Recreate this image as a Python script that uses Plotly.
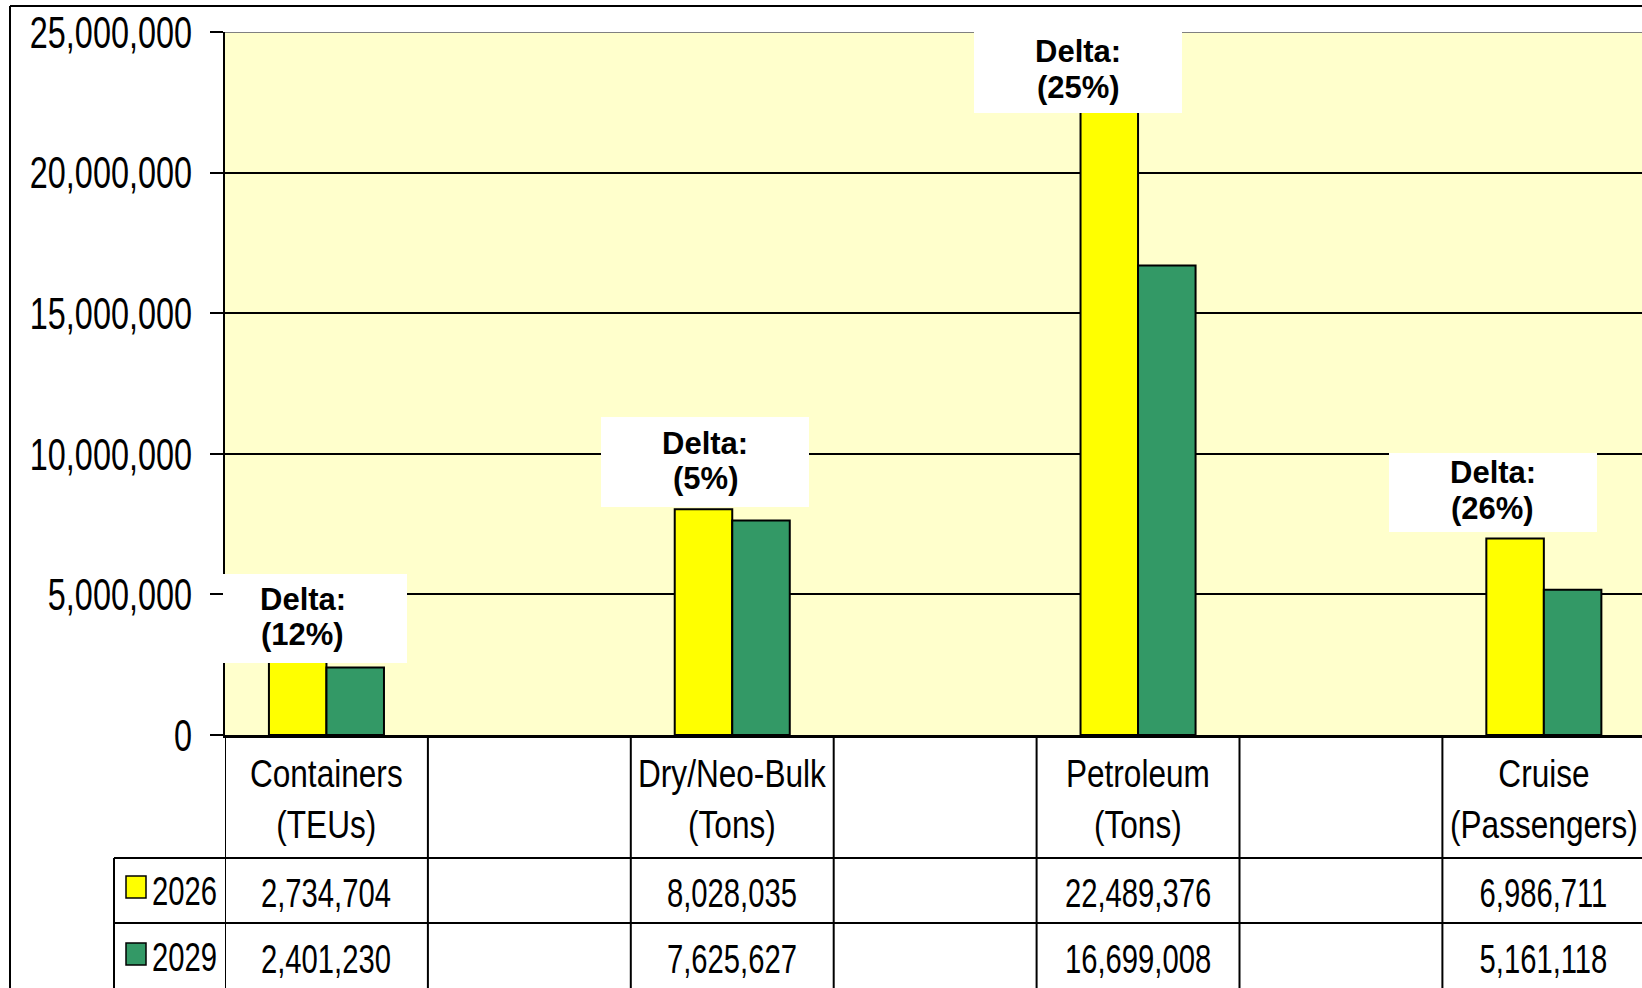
import plotly.graph_objects as go

# ---- data ----
categories = ["Containers<br>(TEUs)", "", "Dry/Neo-Bulk<br>(Tons)", "", "Petroleum<br>(Tons)", "", "Cruise<br>(Passengers)"]
series_names = ["2026", "2029"]
values_2026 = [2734704, None, 8028035, None, 22489376, None, 6986711]
values_2029 = [2401230, None, 7625627, None, 16699008, None, 5161118]
delta_title = "Delta:"
delta_pcts = ["(12%)", "(5%)", "(25%)", "(26%)"]
delta_cats = [0, 2, 4, 6]
y_ticks = [0, 5000000, 10000000, 15000000, 20000000, 25000000]

# ---- geometry / style (window pixel coordinates) ----
W, H = 1642, 988
PL, PT, PB = 225, 32, 735
COLW = 202.9
NARROW = "Liberation Sans, Arial Narrow, sans-serif"   # squeezed horizontally below
BOLD = "Arial, Liberation Sans, sans-serif"
YELLOW = "#FFFF00"
GREEN = "#339966"


def nfont(size):
    return dict(family=NARROW, size=size, color="black")


def py(Y):  # window pixel -> paper
    return (PB - Y) / (PB - PT)


def px(X):
    return (X - PL) / (W - PL)


x_idx = list(range(len(categories)))
x_max = -0.5 + (W - PL) / COLW

fig = go.Figure()
fig.add_trace(go.Bar(x=x_idx, y=values_2026, name=series_names[0], marker=dict(color=YELLOW, line=dict(color="black", width=2))))
fig.add_trace(go.Bar(x=x_idx, y=values_2029, name=series_names[1], marker=dict(color=GREEN, line=dict(color="black", width=2))))

shapes = []
annotations = []

# top border of plot area (gray)
shapes.append(dict(type="line", xref="paper", yref="y", x0=0, x1=1, y0=y_ticks[-1], y1=y_ticks[-1],
                   line=dict(color="#808080", width=2), layer="above"))

# outer chart border
shapes.append(dict(type="line", xref="paper", yref="paper", x0=px(10), x1=px(10), y0=py(6), y1=py(1000),
                   line=dict(color="black", width=2)))
shapes.append(dict(type="line", xref="paper", yref="paper", x0=px(10), x1=px(1660), y0=py(6), y1=py(6),
                   line=dict(color="black", width=2)))

# data table lines
for k in range(len(categories) + 1):
    shapes.append(dict(type="line", xref="x", yref="paper", x0=k - 0.5, x1=k - 0.5, y0=0, y1=py(1000),
                       line=dict(color="black", width=2)))
for Y in (858, 923):
    shapes.append(dict(type="line", xref="paper", yref="paper", x0=px(114), x1=px(1660), y0=py(Y), y1=py(Y),
                       line=dict(color="black", width=2)))
shapes.append(dict(type="line", xref="paper", yref="paper", x0=px(114), x1=px(114), y0=py(858), y1=py(1000),
                   line=dict(color="black", width=2)))

# category header labels
for i, c in enumerate(categories):
    if c:
        annotations.append(dict(xref="x", yref="paper", x=i, y=py(799), text=c, showarrow=False,
                                xanchor="center", yanchor="middle", font=nfont(39)))

# table values + legend keys
row_centers = [893, 959]
colors = [YELLOW, GREEN]
for r, (vals, name) in enumerate(zip([values_2026, values_2029], series_names)):
    yc = row_centers[r]
    for i, v in enumerate(vals):
        if v is not None:
            annotations.append(dict(xref="x", yref="paper", x=i, y=py(yc), text=f"{v:,}", showarrow=False,
                                    xanchor="center", yanchor="middle", font=nfont(40)))
    key_top = [876, 943][r]
    shapes.append(dict(type="rect", xref="paper", yref="paper", x0=px(126), x1=px(146),
                       y0=py(key_top + 22), y1=py(key_top), fillcolor=colors[r],
                       line=dict(color="black", width=1.5)))
    annotations.append(dict(xref="paper", yref="paper", x=px(184.5), y=py(yc - 2), text=name, showarrow=False,
                            xanchor="center", yanchor="middle", font=nfont(40)))

# delta labels: white box + two text lines
box_w = [184, 208, 208, 208]
box_h = [89, 90, 83, 79]
x_shifts = [-11.5, -27, -60, -51]
y_shifts = [-5, 2, -10, 7]
for j, (pct, ci) in enumerate(zip(delta_pcts, delta_cats)):
    base = dict(xref="x", yref="y", x=ci, y=values_2026[ci], showarrow=False, xanchor="center")
    annotations.append(dict(base, text=" ", yanchor="bottom", xshift=x_shifts[j], yshift=y_shifts[j],
                            width=box_w[j], height=box_h[j], bgcolor="white", borderpad=0, borderwidth=0))
    cy = y_shifts[j] + box_h[j] / 2 + 1.5
    txt_x = x_shifts[j] if j else x_shifts[j] - 12
    for line, dy in ((delta_title, 17.6), (pct, -17.6)):
        annotations.append(dict(base, text=f"<b>{line}</b>", yanchor="middle", xshift=txt_x, yshift=cy + dy,
                                font=dict(family=BOLD, size=31, color="black")))

fig.update_layout(
    width=W, height=H,
    margin=dict(l=PL, r=0, t=PT, b=H - PB, pad=0, autoexpand=False),
    paper_bgcolor="white", plot_bgcolor="#FFFFCC",
    barmode="group", bargap=0.433, bargroupgap=0,
    showlegend=False,
    shapes=shapes, annotations=annotations,
    xaxis=dict(range=[-0.5, x_max], showticklabels=False, ticks="", showgrid=False, zeroline=False,
               showline=True, linecolor="black", linewidth=3, automargin=False),
    yaxis=dict(range=[0, y_ticks[-1]], tickvals=y_ticks, tickformat=",", ticks="outside", ticklen=13,
               tickwidth=2, tickcolor="black", showgrid=True, gridcolor="black", gridwidth=2,
               zeroline=False, showline=True, linecolor="black", linewidth=2, automargin=False,
               ticklabelstandoff=9, tickfont=nfont(45)),
)

# page without body margin; narrow (Arial-Narrow-like) look by squeezing those texts horizontally
post_js = """
document.body.style.margin = '0';
var gd = document.getElementById('{plot_id}');
function squeeze() {
  gd.querySelectorAll('text').forEach(function (t) {
    var ff = t.style.fontFamily || '';
    if (ff.indexOf('Arial Narrow') < 0) return;
    var fs = parseFloat(t.style.fontSize) || 40;
    var k = fs >= 44 ? 0.72 : (fs >= 39.8 ? 0.73 : 0.81);
    var lines = t.querySelectorAll('tspan.line');
    var els = lines.length ? Array.prototype.slice.call(lines) : [t];
    els.forEach(function (e) {
      if (e.getAttribute('data-sq')) return;
      var L = e.getComputedTextLength();
      if (L > 0) {
        e.setAttribute('textLength', (L * k).toFixed(2));
        e.setAttribute('lengthAdjust', 'spacingAndGlyphs');
        e.setAttribute('data-sq', '1');
      }
    });
  });
}
squeeze();
gd.on('plotly_afterplot', squeeze);
"""

fig.write_html("out.html", post_script=post_js, config={"displayModeBar": False})
